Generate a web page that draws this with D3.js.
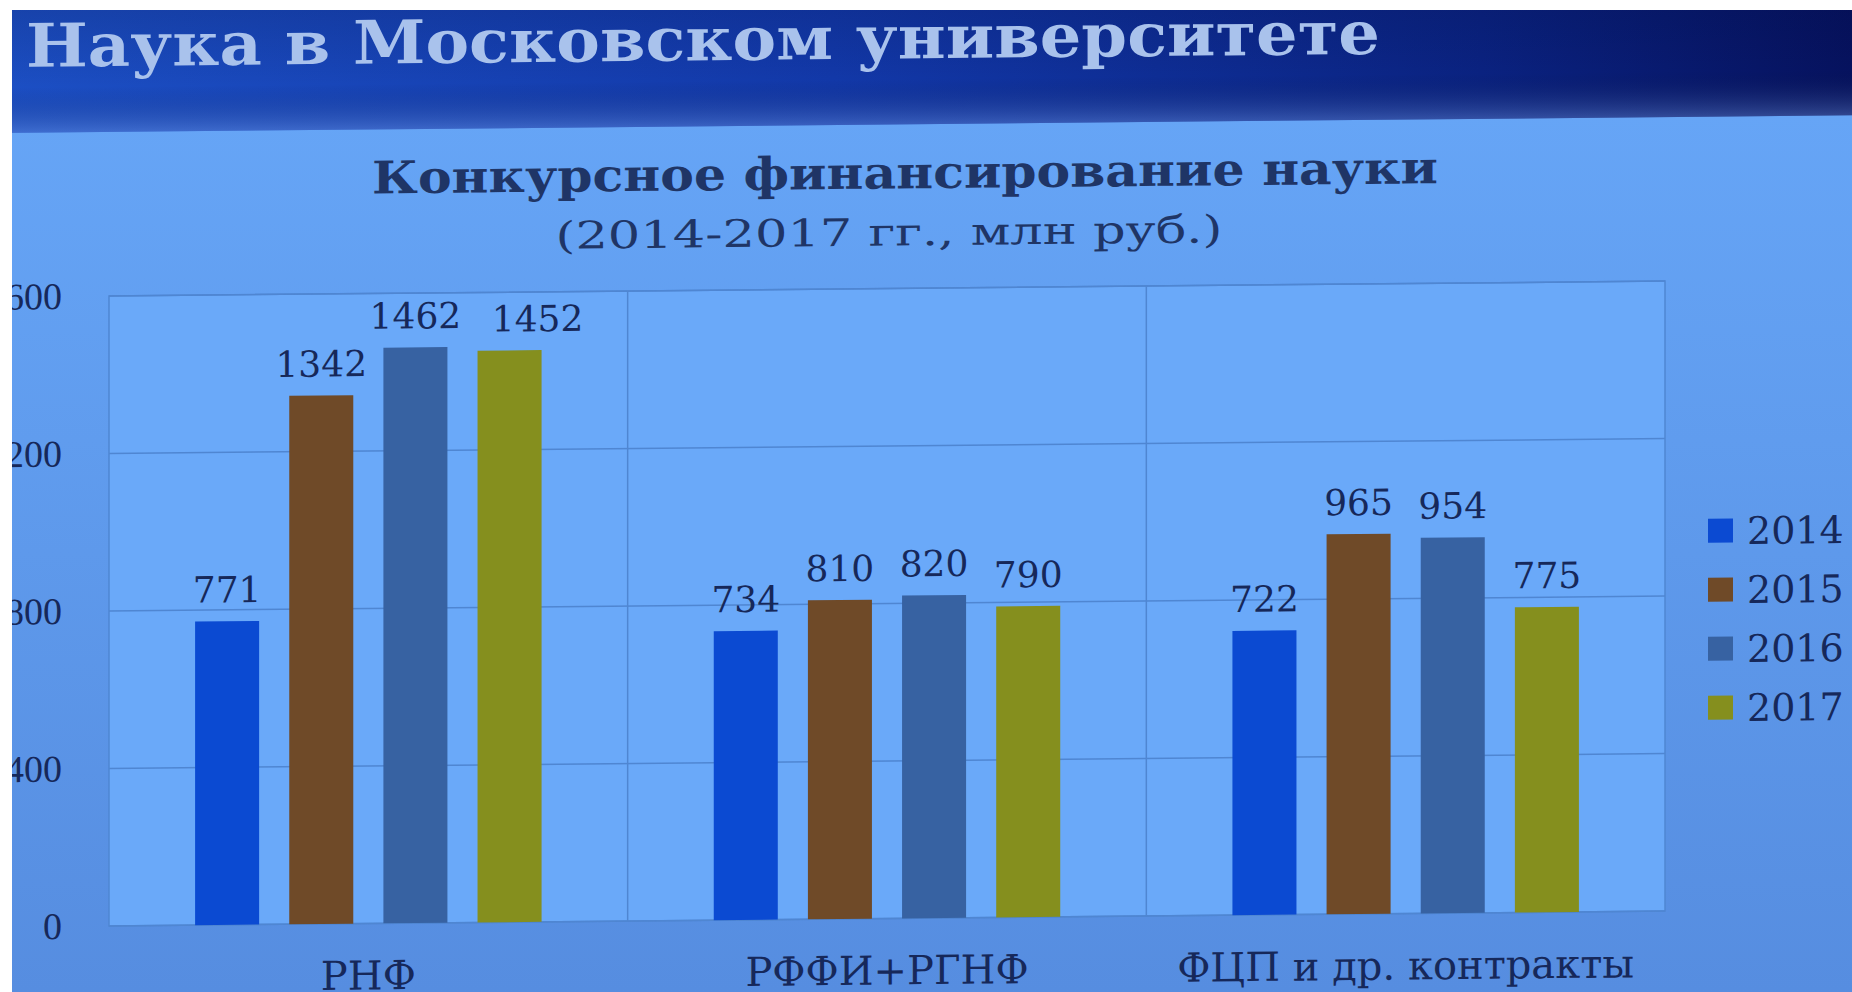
<!DOCTYPE html>
<html lang="ru">
<head>
<meta charset="UTF-8">
<title>Наука в Московском университете</title>
<style>
  body { margin: 0; padding: 0; background: #ffffff; }
  svg { display: block; }
</style>
<script src="https://d3js.org/d3.v7.min.js"></script>
</head>
<body>
<script>
// данные
const categories = ["РНФ", "РФФИ+РГНФ", "ФЦП и др. контракты"];
const years = ["2014", "2015", "2016", "2017"];
const values2014 = [771, 734, 722];
const values2015 = [1342, 810, 965];
const values2016 = [1462, 820, 954];
const values2017 = [1452, 790, 775];
const yTicks = [0, 400, 800, 1200, 1600];
const yearColors = ["#0b4ad2", "#6f4a28", "#3762a2", "#858f1e"];

const seriesByYear = [values2014, values2015, values2016, values2017];

// подпись 1452 на слайде сдвинута вправо
const labelShiftX = { "РНФ|2017": 28 };

const width = 1852, height = 992;
const margin = { top: 296, right: 187, bottom: 66, left: 109 };
const skewDeg = -0.55; // наклон фотографии

const svg = d3.select("body").append("svg")
  .attr("width", width)
  .attr("height", height);

const defs = svg.append("defs");
const bgGrad = defs.append("linearGradient").attr("id", "bg")
  .attr("x1", 0).attr("y1", 0).attr("x2", 0).attr("y2", 1);
bgGrad.append("stop").attr("offset", "0%").attr("stop-color", "#68a8f9");
bgGrad.append("stop").attr("offset", "100%").attr("stop-color", "#568de0");

const bannerGrad = defs.append("linearGradient").attr("id", "banner")
  .attr("x1", 0).attr("y1", 0).attr("x2", 1).attr("y2", 0);
bannerGrad.append("stop").attr("offset", "0%").attr("stop-color", "#1c4fc4");
bannerGrad.append("stop").attr("offset", "45%").attr("stop-color", "#1238a8");
bannerGrad.append("stop").attr("offset", "80%").attr("stop-color", "#0a2280");
bannerGrad.append("stop").attr("offset", "100%").attr("stop-color", "#06125e");

const bannerShade = defs.append("linearGradient").attr("id", "bannerShade")
  .attr("x1", 0).attr("y1", 0).attr("x2", 0).attr("y2", 1);
bannerShade.append("stop").attr("offset", "0%").attr("stop-color", "#000833").attr("stop-opacity", 0.25);
bannerShade.append("stop").attr("offset", "72%").attr("stop-color", "#000833").attr("stop-opacity", 0);
bannerShade.append("stop").attr("offset", "100%").attr("stop-color", "#7fa6e8").attr("stop-opacity", 0.35);

// фон слайда
svg.append("rect").attr("x", 0).attr("y", 0)
  .attr("width", width).attr("height", height)
  .attr("fill", "url(#bg)");

// весь слайд слегка наклонён
const slide = svg.append("g")
  .attr("transform", `translate(0,${-Math.tan(skewDeg * Math.PI / 180) * margin.left}) skewY(${skewDeg})`);

// шапка
slide.append("rect").attr("x", 0).attr("y", -30)
  .attr("width", width).attr("height", 162)
  .attr("fill", "url(#banner)");
slide.append("rect").attr("x", 0).attr("y", -30)
  .attr("width", width).attr("height", 162)
  .attr("fill", "url(#bannerShade)");

slide.append("text")
  .attr("x", 26).attr("y", 66)
  .attr("font-family", "DejaVu Serif")
  .attr("font-weight", "bold")
  .attr("font-size", 60)
  .attr("fill", "#a9c2ec")
  .attr("textLength", 1354)
  .attr("lengthAdjust", "spacingAndGlyphs")
  .text("Наука в Московском университете");

// заголовок диаграммы
slide.append("text")
  .attr("x", 905).attr("y", 196)
  .attr("text-anchor", "middle")
  .attr("font-family", "DejaVu Serif")
  .attr("font-weight", "bold")
  .attr("font-size", 45)
  .attr("fill", "#1f3566")
  .attr("textLength", 1066)
  .attr("lengthAdjust", "spacingAndGlyphs")
  .text("Конкурсное финансирование науки");

slide.append("text")
  .attr("x", 889).attr("y", 253)
  .attr("text-anchor", "middle")
  .attr("font-family", "DejaVu Serif")
  .attr("font-size", 38)
  .attr("fill", "#1f3566")
  .attr("textLength", 667)
  .attr("lengthAdjust", "spacingAndGlyphs")
  .text("(2014-2017 гг., млн руб.)");

// шкалы
const x0 = d3.scaleBand()
  .domain(categories)
  .range([margin.left, width - margin.right]);

const groupPad = x0.bandwidth() * 0.166;
const x1 = d3.scaleBand()
  .domain(years)
  .range([groupPad, x0.bandwidth() - groupPad])
  .paddingInner(0.32);

const y = d3.scaleLinear()
  .domain([0, 1600])
  .range([height - margin.bottom, margin.top]);

// область построения
slide.append("rect")
  .attr("x", margin.left).attr("y", margin.top)
  .attr("width", width - margin.left - margin.right)
  .attr("height", height - margin.top - margin.bottom)
  .attr("fill", "#6aa9f9")
  .attr("stroke", "#4f86d2")
  .attr("stroke-width", 1.5);

// горизонтальная сетка
slide.append("g")
  .selectAll("line")
  .data(yTicks)
  .join("line")
  .attr("x1", margin.left).attr("x2", width - margin.right)
  .attr("y1", d => y(d)).attr("y2", d => y(d))
  .attr("stroke", "#4f86d2")
  .attr("stroke-width", 1.5);

// вертикальные разделители категорий
slide.append("g")
  .selectAll("line")
  .data(categories.slice(1))
  .join("line")
  .attr("x1", d => x0(d)).attr("x2", d => x0(d))
  .attr("y1", margin.top).attr("y2", height - margin.bottom)
  .attr("stroke", "#4f86d2")
  .attr("stroke-width", 1.5);

// ось Y (левый край срезан кадром)
const yAxis = slide.append("g")
  .attr("transform", `translate(${margin.left},0)`)
  .call(d3.axisLeft(y).tickValues(yTicks).tickSize(0).tickPadding(47));
yAxis.select(".domain").remove();
yAxis.selectAll("text")
  .attr("font-family", "Liberation Serif")
  .attr("font-size", 38)
  .attr("fill", "#16285a");

// ось X
const xAxis = slide.append("g")
  .attr("transform", `translate(0,${height - margin.bottom})`)
  .call(d3.axisBottom(x0).tickSize(0).tickPadding(0));
xAxis.select(".domain").remove();
xAxis.selectAll("text")
  .attr("dy", null)
  .attr("y", 66)
  .attr("font-family", "DejaVu Serif")
  .attr("font-size", 40)
  .attr("fill", "#16285a");

// столбцы
const rows = categories.map((c, i) => ({
  category: c,
  items: years.map((yr, j) => ({ category: c, year: yr, value: seriesByYear[j][i], color: yearColors[j] }))
}));

const groups = slide.append("g")
  .selectAll("g")
  .data(rows)
  .join("g")
  .attr("transform", d => `translate(${x0(d.category)},0)`);

groups.selectAll("rect")
  .data(d => d.items)
  .join("rect")
  .attr("x", d => x1(d.year))
  .attr("y", d => y(d.value))
  .attr("width", x1.bandwidth())
  .attr("height", d => y(0) - y(d.value))
  .attr("fill", d => d.color);

groups.selectAll("text")
  .data(d => d.items)
  .join("text")
  .attr("x", d => x1(d.year) + x1.bandwidth() / 2 + (labelShiftX[d.category + "|" + d.year] || 0))
  .attr("y", d => y(d.value) - 19)
  .attr("text-anchor", "middle")
  .attr("font-family", "DejaVu Serif")
  .attr("font-size", 36)
  .attr("fill", "#16285a")
  .text(d => d.value);

// легенда
const legend = slide.append("g")
  .selectAll("g")
  .data(years)
  .join("g")
  .attr("transform", (d, i) => `translate(1708,${546 + i * 59})`);

legend.append("rect")
  .attr("x", 0).attr("y", -12)
  .attr("width", 25).attr("height", 24)
  .attr("fill", (d, i) => yearColors[i]);

legend.append("text")
  .attr("x", 39).attr("y", 0)
  .attr("dy", "0.36em")
  .attr("font-family", "DejaVu Serif")
  .attr("font-size", 38)
  .attr("fill", "#16285a")
  .text(d => d);

// белое поле за краем экрана
svg.append("rect").attr("x", 0).attr("y", 0).attr("width", 12).attr("height", height).attr("fill", "#ffffff");
svg.append("rect").attr("x", 0).attr("y", 0).attr("width", width).attr("height", 10).attr("fill", "#ffffff");
</script>
</body>
</html>
